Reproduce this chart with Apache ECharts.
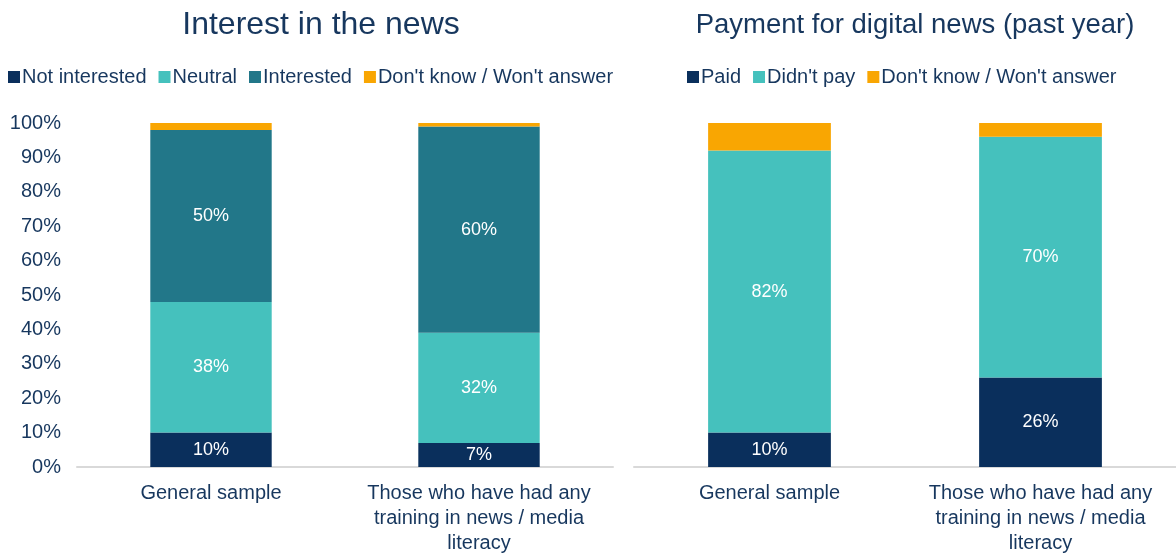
<!DOCTYPE html>
<html>
<head>
<meta charset="utf-8">
<script src="https://cdn.jsdelivr.net/npm/echarts@6/dist/echarts.min.js"></script>
<style>
  html, body { margin: 0; padding: 0; background: #fff; }
  #chart { width: 1176px; height: 556px; }
</style>
</head>
<body>
<div id="chart"></div>
<script>
// Categories shared by both panels
const categories = ['General sample', 'Those who have had any\ntraining in news / media\nliteracy'];

// Interest in the news (%)
const notInterested = [10, 7];
const neutral = [38, 32];
const interested = [50, 60];
const interestDontKnow = [2, 1];

// Payment for digital news in the past year (%)
const paid = [10, 26];
const didntPay = [82, 70];
const paymentDontKnow = [8, 4];

const yTicks = [0, 10, 20, 30, 40, 50, 60, 70, 80, 90, 100];

const NAVY = '#0a2f5c';
const TEAL_LIGHT = '#45c1bd';
const TEAL_DARK = '#227789';
const ORANGE = '#f9a602';
const TEXT = '#17375e';
const FONT = '"Liberation Sans", Arial, sans-serif';

function barSeries(name, data, color, axisIndex, showLabel) {
  return {
    name: name,
    type: 'bar',
    stack: 'panel' + axisIndex,
    xAxisIndex: axisIndex,
    yAxisIndex: axisIndex,
    data: data,
    barWidth: '45.3%',
    itemStyle: { color: color },
    label: {
      show: showLabel,
      position: 'inside',
      color: '#ffffff',
      fontSize: 18,
      fontFamily: FONT,
      formatter: '{c}%'
    }
  };
}

const xAxisCommon = {
  type: 'category',
  data: categories,
  axisLine: { show: true, lineStyle: { color: '#d9d9d9', width: 2 } },
  axisTick: { show: false },
  axisLabel: { color: TEXT, fontSize: 20, fontFamily: FONT, lineHeight: 25, margin: 14, interval: 0 }
};

const chart = echarts.init(document.getElementById('chart'));
chart.setOption({
  animation: false,
  textStyle: { fontFamily: FONT },
  title: [
    { text: 'Interest in the news', left: 316, top: 4, textAlign: 'center',
      textStyle: { color: TEXT, fontSize: 32, fontWeight: 'normal', fontFamily: FONT } },
    { text: 'Payment for digital news (past year)', left: 910, top: 6, textAlign: 'center',
      textStyle: { color: TEXT, fontSize: 27.5, fontWeight: 'normal', fontFamily: FONT } }
  ],
  legend: [
    { data: ['Not interested', 'Neutral', 'Interested', "Don't know / Won't answer"],
      left: 3, top: 62, itemWidth: 12, itemHeight: 12, itemGap: 12, icon: 'rect',
      selectedMode: false,
      textStyle: { color: TEXT, fontSize: 20, fontFamily: FONT, padding: [0, 0, 0, -3] } },
    { data: ['Paid', "Didn't pay", "Don't know / Won't answer "],
      left: 682, top: 62, itemWidth: 12, itemHeight: 12, itemGap: 12, icon: 'rect',
      selectedMode: false,
      textStyle: { color: TEXT, fontSize: 20, fontFamily: FONT, padding: [0, 0, 0, -3] } }
  ],
  grid: [
    { left: 77, right: 563, top: 123, bottom: 83 },
    { left: 634, right: -8, top: 123, bottom: 83 }
  ],
  xAxis: [
    Object.assign({ gridIndex: 0 }, xAxisCommon),
    Object.assign({ gridIndex: 1 }, xAxisCommon)
  ],
  yAxis: [
    { gridIndex: 0, type: 'value', min: yTicks[0], max: yTicks[yTicks.length - 1], interval: 10,
      splitLine: { show: false }, axisLine: { show: false }, axisTick: { show: false },
      axisLabel: { color: TEXT, fontSize: 20, fontFamily: FONT, margin: 16, formatter: '{value}%' } },
    { gridIndex: 1, type: 'value', min: 0, max: 100, interval: 10, show: false,
      splitLine: { show: false } }
  ],
  series: [
    barSeries('Not interested', notInterested, NAVY, 0, true),
    barSeries('Neutral', neutral, TEAL_LIGHT, 0, true),
    barSeries('Interested', interested, TEAL_DARK, 0, true),
    barSeries("Don't know / Won't answer", interestDontKnow, ORANGE, 0, false),
    barSeries('Paid', paid, NAVY, 1, true),
    barSeries("Didn't pay", didntPay, TEAL_LIGHT, 1, true),
    barSeries("Don't know / Won't answer ", paymentDontKnow, ORANGE, 1, false)
  ]
});
</script>
</body>
</html>
